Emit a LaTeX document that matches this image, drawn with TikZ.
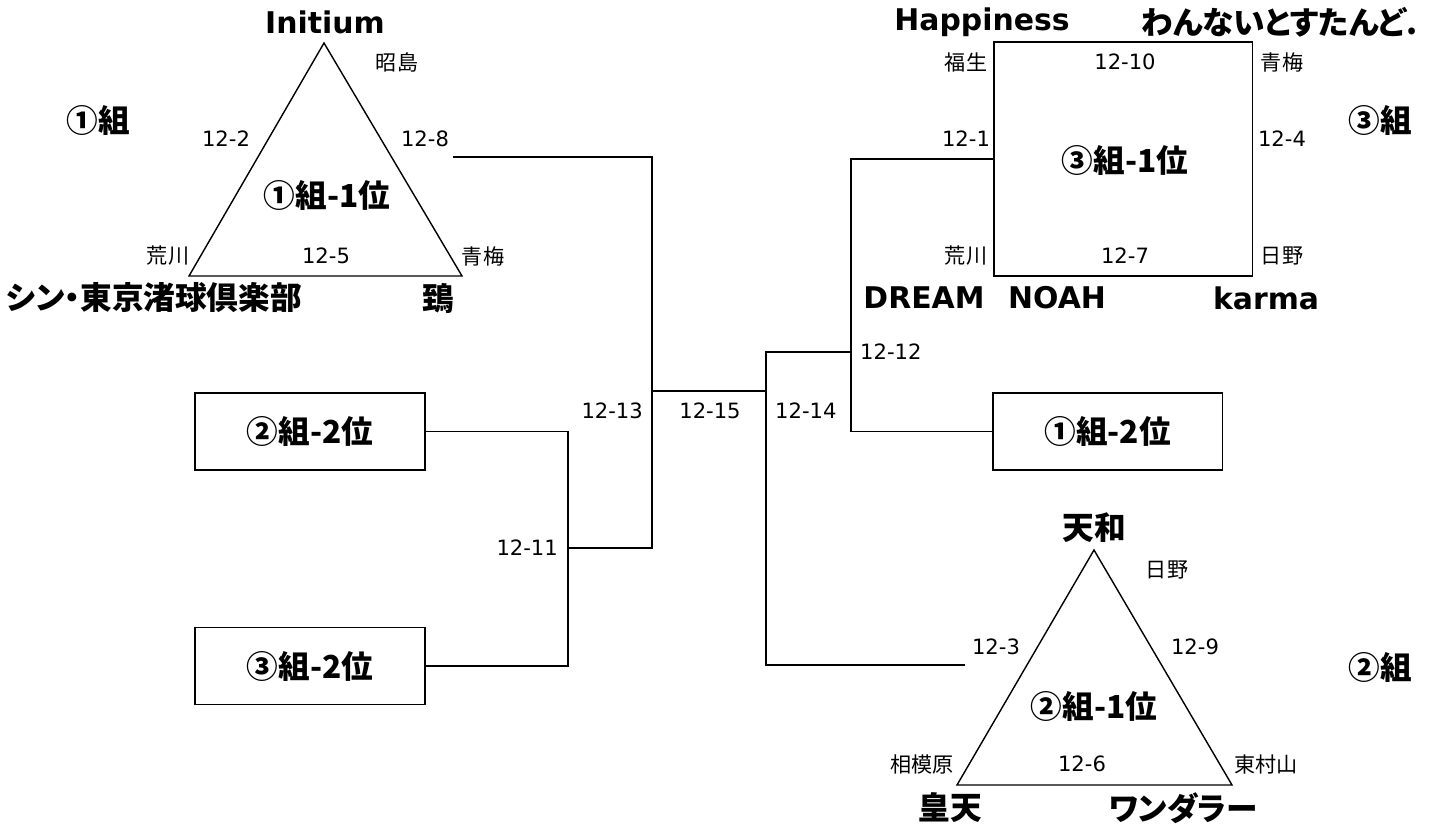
\documentclass[tikz,border=0pt]{standalone}
\usepackage{fontspec}
\setmainfont{DejaVu Sans}
\newfontfamily\jp[RawFeature=+palt]{Noto Sans CJK JP}
\usetikzlibrary{positioning}

\tikzset{
  team/.style={font=\bfseries\fontsize{17}{20}\selectfont},
  jteam/.style={font=\jp\bfseries\fontsize{18}{20}\selectfont},
  game/.style={font=\fontsize{12}{14}\selectfont},
  site/.style={font=\jp\fontsize{12}{14}\selectfont},
  slot/.style={draw, line width=1.1pt, minimum width=4.6cm, minimum height=1.54cm, font=\jp\bfseries\fontsize{18}{20}\selectfont},
  league/.style={line width=0.8pt, line join=miter},
  bracket/.style={line width=1.1pt}
}

\begin{document}
\begin{tikzpicture}[x=0.02cm, y=-0.02cm]
  \useasboundingbox (0,0) rectangle (1430,828);

  % group 1 (triangle)
  \coordinate (t1a) at (324,43);
  \coordinate (t1b) at (189,276);
  \coordinate (t1c) at (462,276);
  \draw[league] (t1a) -- (t1b) -- (t1c) -- cycle;
  \node[team] (initium) at (325,22) {Initium};
  \node[jteam] (shin) at (154,298) {シン・東京渚球倶楽部};
  \node[jteam] (tobi) at (438,298) {鵄};
  \node[jteam] (g1) at (98,120) {①組};
  \node[jteam] (g1w) at (327,195) {①組-1位};
  \node[site] (s1) at (397,62) {昭島};
  \node[site] (s2) at (168,256) {荒川};
  \node[site] (s3) at (483,256) {青梅};
  \node[game] (m2) at (226,139) {12-2};
  \node[game] (m8) at (425,139) {12-8};
  \node[game] (m5) at (326,256) {12-5};

  % group 3 (square)
  \node[draw, line width=1.1pt, minimum width=5.18cm, minimum height=4.68cm] (sq) at (1123,159) {};
  \node[jteam] (g3w) at (1125,160) {③組-1位};
  \node[team] (happy) at (982,22) {Happiness};
  \node[jteam] (wan) at (1279,22) {わんないとすたんど.};
  \node[team] (dream) at (924,298) {DREAM};
  \node[team] (noah) at (1057,298) {NOAH};
  \node[team] (karma) at (1266,298) {karma};
  \node[jteam] (g3) at (1380,120) {③組};
  \node[site] (s4) at (966,62) {福生};
  \node[site] (s5) at (966,256) {荒川};
  \node[site] (s6) at (1282,62) {青梅};
  \node[site] (s7) at (1282,256) {日野};
  \node[game] (m10) at (1125,62) {12-10};
  \node[game] (m7) at (1125,256) {12-7};
  \node[game] (m1) at (966,139) {12-1};
  \node[game] (m4) at (1282,139) {12-4};

  % group 2 (triangle)
  \coordinate (t2a) at (1094,550);
  \coordinate (t2b) at (957,785);
  \coordinate (t2c) at (1232,785);
  \draw[league] (t2a) -- (t2b) -- (t2c) -- cycle;
  \node[jteam] (tenwa) at (1094,528) {天和};
  \node[jteam] (koten) at (950,808) {皇天};
  \node[jteam] (wonder) at (1183,808) {ワンダラー};
  \node[jteam] (g2) at (1380,667) {②組};
  \node[jteam] (g2w) at (1094,706) {②組-1位};
  \node[site] (s8) at (1167,570) {日野};
  \node[site] (s9) at (922,764) {相模原};
  \node[site] (s10) at (1266,764) {東村山};
  \node[game] (m3) at (996,647) {12-3};
  \node[game] (m9) at (1195,647) {12-9};
  \node[game] (m6) at (1082,764) {12-6};

  % second places
  \node[slot] (b22) at (310,431.5) {②組-2位};
  \node[slot] (b32) at (310,666) {③組-2位};
  \node[slot] (b12) at (1107.5,431.5) {①組-2位};

  % knockout
  \coordinate (a1) at (453,157);
  \coordinate (c11) at (652,548);
  \coordinate (j11) at (568,548);
  \coordinate (j13) at (652,391);
  \coordinate (j14) at (766,391);
  \coordinate (j12) at (851,352);
  \coordinate (a2) at (965,665);
  \draw[bracket] (b22.east) -| (j11) |- (b32.east);
  \draw[bracket] (a1) -| (c11) -- (j11);
  \draw[bracket] (j13) -- (j14);
  \draw[bracket] (j12) -- (j14 |- j12) -- (j14 |- a2) -- (a2);
  \draw[bracket] (sq.west) -| (j12) |- (b12.west);
  \node[game, anchor=east] (m11) at (564,548) {12-11};
  \node[game, anchor=east] (m13) at (649,411) {12-13};
  \node[game] (m15) at (710,411) {12-15};
  \node[game, anchor=west] (m14) at (769,411) {12-14};
  \node[game, anchor=west] (m12) at (854,352) {12-12};
\end{tikzpicture}
\end{document}
